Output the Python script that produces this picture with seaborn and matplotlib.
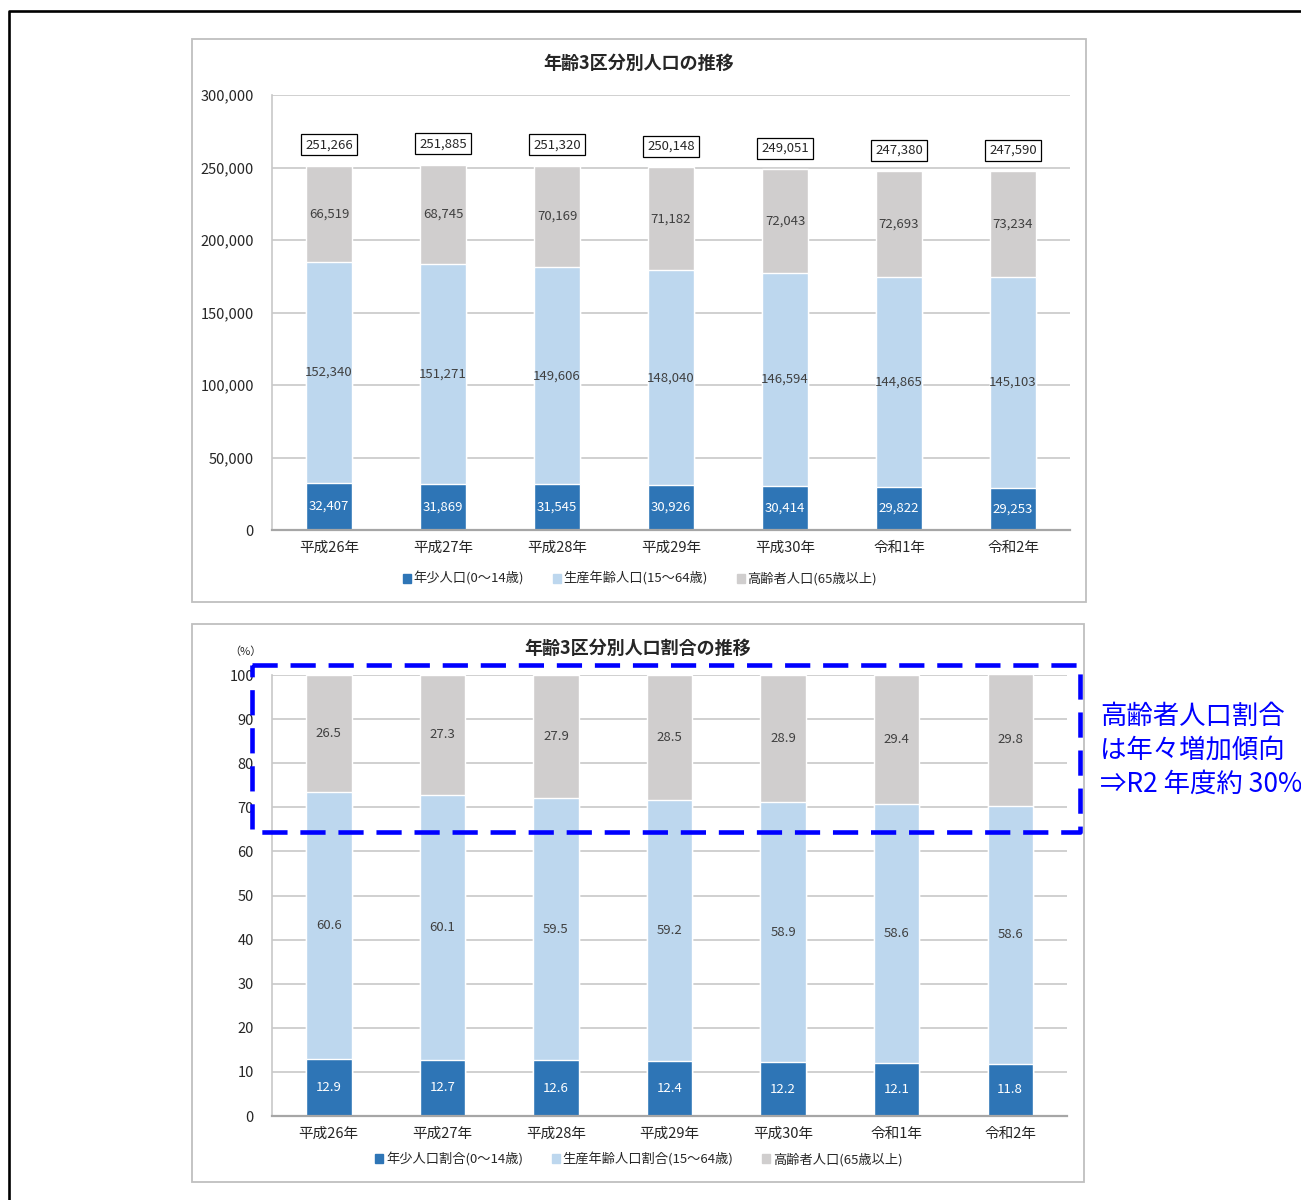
import numpy as np
import seaborn as sns
import matplotlib.pyplot as plt
from matplotlib.patches import Patch, Rectangle
from matplotlib.lines import Line2D
from matplotlib.ticker import FuncFormatter

# --- dati ---
years = ['平成26年', '平成27年', '平成28年', '平成29年', '平成30年', '令和1年', '令和2年']
young = [32407, 31869, 31545, 30926, 30414, 29822, 29253]
working = [152340, 151271, 149606, 148040, 146594, 144865, 145103]
elderly = [66519, 68745, 70169, 71182, 72043, 72693, 73234]
total = [251266, 251885, 251320, 250148, 249051, 247380, 247590]

young_pct = [12.9, 12.7, 12.6, 12.4, 12.2, 12.1, 11.8]
working_pct = [60.6, 60.1, 59.5, 59.2, 58.9, 58.6, 58.6]
elderly_pct = [26.5, 27.3, 27.9, 28.5, 28.9, 29.4, 29.8]

legend_top = ['年少人口(0～14歳)', '生産年齢人口(15～64歳)', '高齢者人口(65歳以上)']
legend_bottom = ['年少人口割合(0～14歳)', '生産年齢人口割合(15～64歳)', '高齢者人口(65歳以上)']
note_lines = ['高齢者人口割合', 'は年々増加傾向', '⇒R2 年度約 30%']

C_YOUNG = '#2E75B6'
C_WORK = '#BDD7EE'
C_OLD = '#D0CECE'
GRID = '#C8C8C8'

sns.set_style("white")
plt.rcParams['font.family'] = ['Noto Sans CJK JP', 'DejaVu Sans']

W, H = 1301, 1200
fig = plt.figure(figsize=(W / 100, H / 100), dpi=100)


def fx(px):
    return px / W


def fy(py):
    return 1 - py / H


# cornici dei pannelli
for (x0, y0, x1, y1) in [(192, 39, 1086, 602), (192, 624, 1084, 1182)]:
    fig.patches.append(Rectangle((fx(x0), fy(y1)), fx(x1 - x0), (y1 - y0) / H,
                                 transform=fig.transFigure, fill=False,
                                 edgecolor='#BFBFBF', lw=1.3))
# cornice esterna nera
fig.lines.append(Line2D([fx(9), fx(9), 1.0], [0.0, fy(11), fy(11)],
                        transform=fig.transFigure, color='black', lw=1.9))


def stacked(ax, a, b, c, ymax, step, fmt_int):
    cum_ab = np.array(a) + np.array(b)
    cum_abc = cum_ab + np.array(c)
    sns.barplot(x=years, y=cum_abc, color=C_OLD, width=0.4, saturation=1, ax=ax, errorbar=None)
    sns.barplot(x=years, y=cum_ab, color=C_WORK, width=0.4, saturation=1, ax=ax, errorbar=None)
    sns.barplot(x=years, y=a, color=C_YOUNG, width=0.4, saturation=1, ax=ax, errorbar=None)
    ax.set_xlim(-0.5, len(years) - 0.5)
    ax.set_ylim(0, ymax)
    ax.set_yticks(np.arange(0, ymax + step, step))
    ax.yaxis.grid(True, color=GRID, lw=1.2)
    ax.set_axisbelow(True)
    for s in ['top', 'right']:
        ax.spines[s].set_visible(False)
    ax.spines['left'].set_color(GRID)
    ax.spines['left'].set_linewidth(1.2)
    ax.spines['bottom'].set_color('#A6A6A6')
    ax.spines['bottom'].set_linewidth(1.6)
    ax.set_xlabel('')
    ax.set_ylabel('')
    ax.tick_params(axis='both', length=0, labelsize=10.5, colors='#262626')
    ax.tick_params(axis='y', pad=13)
    ax.tick_params(axis='x', pad=8)
    for i in range(len(years)):
        ax.text(i, a[i] / 2, fmt_int(a[i]), ha='center', va='center', color='white', fontsize=9.5)
        ax.text(i, a[i] + b[i] / 2, fmt_int(b[i]), ha='center', va='center', color='#404040', fontsize=9.5)
        ax.text(i, cum_ab[i] + c[i] / 2, fmt_int(c[i]), ha='center', va='center', color='#404040', fontsize=9.5)
    return cum_abc


# --- grafico 1 ---
ax1 = fig.add_axes([fx(272), fy(530), fx(1070 - 272), (530 - 95) / H])
tops = stacked(ax1, young, working, elderly, 300000, 50000, lambda v: f'{v:,}')
ax1.yaxis.set_major_formatter(FuncFormatter(lambda v, p: f'{int(v):,}'))
for i, t in enumerate(total):
    ax1.annotate(f'{t:,}', (i, tops[i]), xytext=(0, 15), textcoords='offset points',
                 ha='center', va='center', fontsize=9.5, color='#262626',
                 bbox=dict(boxstyle='square,pad=0.3', fc='white', ec='black', lw=0.9))
fig.text(fx(639), fy(63), '年齢3区分別人口の推移', ha='center', va='center',
         fontsize=13, fontweight='bold', color='#262626')
handles = [Patch(color=c) for c in [C_YOUNG, C_WORK, C_OLD]]
fig.legend(handles, legend_top, loc='center', bbox_to_anchor=(fx(640), fy(579)), ncol=3,
           frameon=False, fontsize=9.5, handlelength=0.6, handleheight=0.6,
           handletextpad=0.2, columnspacing=2.2)

# --- grafico 2 ---
ax2 = fig.add_axes([fx(272), fy(1116), fx(1067 - 272), (1116 - 675) / H])
stacked(ax2, young_pct, working_pct, elderly_pct, 100, 10, lambda v: f'{v:.1f}')
fig.text(fx(638), fy(648), '年齢3区分別人口割合の推移', ha='center', va='center',
         fontsize=13, fontweight='bold', color='#262626')
fig.text(fx(245), fy(652), '（%）', ha='center', va='center', fontsize=8, color='#262626')
fig.legend(handles, legend_bottom, loc='center', bbox_to_anchor=(fx(639), fy(1159)), ncol=3,
           frameon=False, fontsize=9.5, handlelength=0.6, handleheight=0.6,
           handletextpad=0.2, columnspacing=2.2)

# riquadro tratteggiato blu
fig.lines.append(Line2D([fx(252), fx(1080), fx(1080), fx(252), fx(252)],
                        [fy(665), fy(665), fy(832), fy(832), fy(665)],
                        transform=fig.transFigure, color='#0000FF', lw=3.3,
                        linestyle=(0, (5.5, 2.8))))
for k, line in enumerate(note_lines):
    fig.text(fx(1100), fy(716 + 34 * k), line, ha='left', va='center', fontsize=19,
             color='#0000FF')

plt.savefig('out.png', dpi=100)
